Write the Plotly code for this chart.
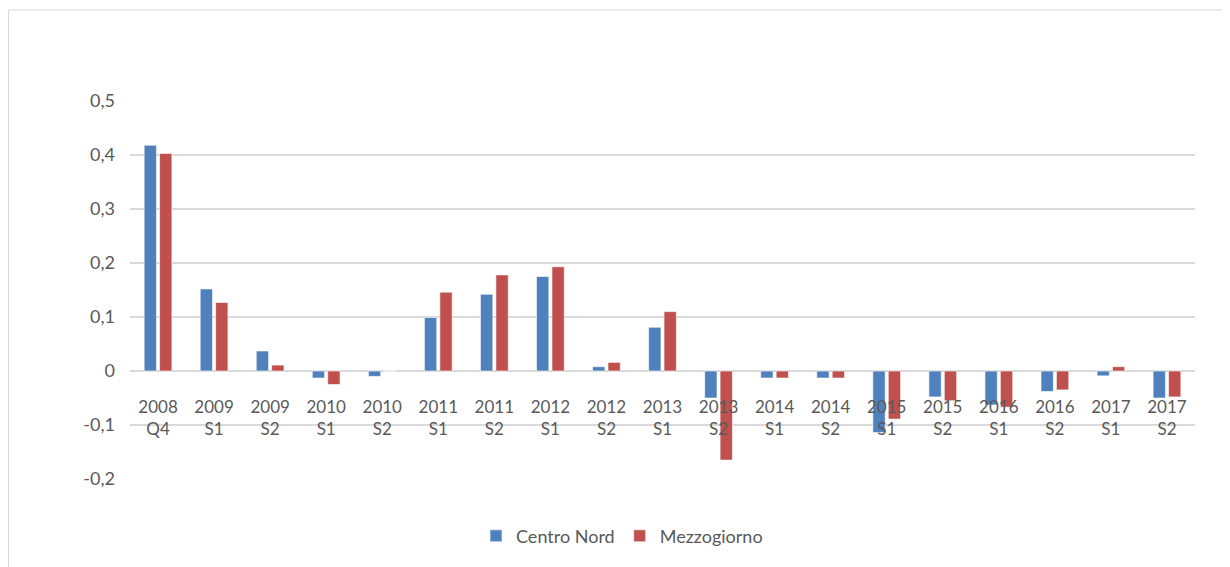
import plotly.graph_objects as go

categories = ["2008<br>Q4", "2009<br>S1", "2009<br>S2", "2010<br>S1", "2010<br>S2",
              "2011<br>S1", "2011<br>S2", "2012<br>S1", "2012<br>S2", "2013<br>S1",
              "2013<br>S2", "2014<br>S1", "2014<br>S2", "2015<br>S1", "2015<br>S2",
              "2016<br>S1", "2016<br>S2", "2017<br>S1", "2017<br>S2"]

centro_nord = [0.418, 0.152, 0.037, -0.013, -0.010, 0.099, 0.142, 0.175, 0.008, 0.081,
               -0.050, -0.013, -0.013, -0.114, -0.048, -0.063, -0.038, -0.009, -0.050]
mezzogiorno = [0.403, 0.127, 0.011, -0.025, 0.0, 0.146, 0.178, 0.193, 0.016, 0.110,
               -0.165, -0.013, -0.013, -0.089, -0.055, -0.067, -0.035, 0.008, -0.048]

y_tickvals = [-0.2, -0.1, 0, 0.1, 0.2, 0.3, 0.4, 0.5]
y_ticktext = ["-0,2", "-0,1", "0", "0,1", "0,2", "0,3", "0,4", "0,5"]

FONT = "Lato"
GRAY_TXT = "#595959"
GRID = "#D9D9D9"

# page body has an 8px margin; figure is sized to fill the rest of the window
W, H = 1222, 559
ML, MR, MT, MB = 122, 35, 93, 88
PW, PH = W - ML - MR, H - MT - MB

fig = go.Figure()
fig.add_trace(go.Bar(x=categories, y=centro_nord, name="Centro Nord",
                     marker=dict(color="#4F81BD", line=dict(color="rgba(255,255,255,0.6)", width=1))))
fig.add_trace(go.Bar(x=categories, y=mezzogiorno, name="Mezzogiorno",
                     marker=dict(color="#C0504D", line=dict(color="rgba(255,255,255,0.6)", width=1))))

ymin, ymax = -0.2, 0.5
zero_pos = (0 - ymin) / (ymax - ymin)

fig.update_layout(
    width=W, height=H,
    margin=dict(l=ML, r=MR, t=MT, b=MB),
    paper_bgcolor="white", plot_bgcolor="white",
    barmode="group", bargap=0.45, bargroupgap=0.2,
    font=dict(family=FONT, size=17, color=GRAY_TXT),
    showlegend=True,
    legend=dict(orientation="h", x=0.462, xanchor="center", y=-0.151, yanchor="middle",
                font=dict(family=FONT, size=18, color=GRAY_TXT), itemwidth=30,
                traceorder="normal"),
    xaxis=dict(anchor="free", position=zero_pos, showgrid=False, showline=False,
               zeroline=False, ticks="", ticklabelstandoff=24,
               tickfont=dict(family=FONT, size=17, color=GRAY_TXT)),
    yaxis=dict(range=[ymin, ymax], tickvals=y_tickvals, ticktext=y_ticktext,
               showgrid=True, gridcolor=GRID, gridwidth=1.5,
               zeroline=True, zerolinecolor=GRID, zerolinewidth=1.5,
               showline=False, ticks="", ticklabelstandoff=14,
               tickfont=dict(family=FONT, size=18, color=GRAY_TXT)),
    shapes=[dict(type="rect", xref="paper", yref="paper",
                 x0=(0.5 - ML) / PW, x1=1.3, y0=-0.6, y1=(PH + MT - 2) / PH,
                 line=dict(color=GRID, width=1), fillcolor="rgba(0,0,0,0)", layer="below")],
)

fig.write_html("out.html")
